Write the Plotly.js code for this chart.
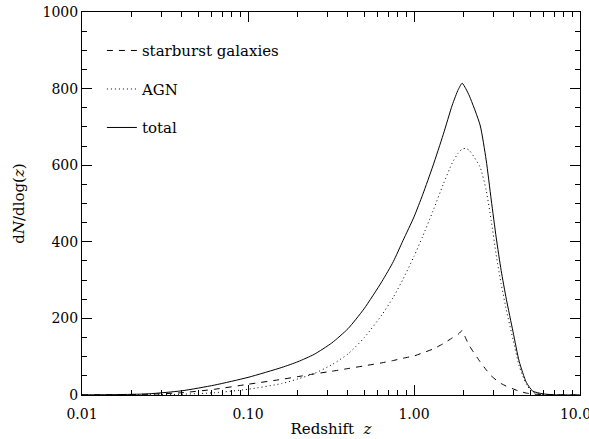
<!DOCTYPE html>
<html>
<head>
<meta charset="utf-8">
<script src="https://cdn.plot.ly/plotly-3.0.1.min.js"></script>
<style>html,body{margin:0;padding:0;background:#fff;}</style>
</head>
<body>
<div id="chart" style="width:589px;height:439px;"></div>
<script>
// Redshift grid
var z = [0.01, 0.016, 0.025, 0.04, 0.063, 0.1, 0.16, 0.2, 0.25, 0.32, 0.4, 0.5, 0.64, 0.75, 0.86, 1.0, 1.13, 1.3, 1.5, 1.7, 1.85, 1.95, 2.05, 2.16, 2.5, 2.72, 2.92, 3.13, 3.35, 3.6, 3.95, 4.3, 4.75, 5.2, 6.0, 7.0, 8.0, 10.0];
// dN/dlog(z) for each population
var starburst = [0.2, 0.8, 2, 6, 15, 28, 41, 48, 55, 62, 69, 76, 84, 90, 96, 102, 110, 120, 134, 149, 159, 168, 148, 128, 87, 66, 50, 39, 30, 23, 16, 10, 5, 2.5, 1, 0.5, 0.2, 0];
var agn = [0, 0.2, 0.5, 2, 6, 15, 30, 42, 56, 79, 107, 149, 209, 255, 303, 362, 415, 480, 550, 606, 632, 642, 644, 638, 595, 535, 455, 365, 290, 222, 145, 76, 28, 7, 1.5, 0.3, 0, 0];
var total = [0.3, 1, 3, 11, 26, 46, 72, 87, 106, 136, 173, 225, 296, 348, 404, 465, 524, 598, 680, 757, 798, 814, 800, 780, 705, 614, 509, 410, 325, 250, 165, 88, 33, 10, 3, 0.5, 0.1, 0];
var names = ['starburst galaxies', 'AGN', 'total'];
var xTickVals = [0.01, 0.1, 1, 10];
var xTickText = ['0.01', '0.10', '1.00', '10.00'];
var xMinorVals = [0.02,0.03,0.04,0.05,0.06,0.07,0.08,0.09,0.2,0.3,0.4,0.5,0.6,0.7,0.8,0.9,2,3,4,5,6,7,8,9];

var serif = 'DejaVu Serif, Liberation Serif, serif';
function tr(y, name, dash, grp) {
  return {x: z, y: y, name: name, type: 'scatter', mode: 'lines',
    legendgroup: grp,
    line: {color: '#000', width: 1, dash: dash, shape: 'spline', smoothing: 0.6}};
}
var data = [
  tr(starburst, names[0], '6px,6px', 'a'),
  tr(agn, names[1], '1px,3px', 'b'),
  tr(total, names[2], 'solid', 'c')
];
var axisCommon = {
  showline: true, linecolor: '#000', linewidth: 1, mirror: 'allticks',
  ticks: 'inside', ticklen: 10, tickwidth: 1, tickcolor: '#000',
  showgrid: false, zeroline: false,
  tickfont: {family: serif, size: 14, color: '#000'}
};
var layout = {
  width: 589, height: 439,
  margin: {l: 82, r: 9, t: 12, b: 44},
  paper_bgcolor: '#fff', plot_bgcolor: '#fff',
  font: {family: serif, color: '#000'},
  xaxis: Object.assign({}, axisCommon, {
    type: 'log', range: [-2, 1],
    tickmode: 'array', tickvals: xTickVals, ticktext: xTickText,
    ticklabeloverflow: 'allow', ticklabelstandoff: 6,
    minor: {ticks: 'inside', ticklen: 5, tickcolor: '#000', tickmode: 'array', tickvals: xMinorVals, showgrid: false},
    title: {text: 'Redshift  <i>z</i>', font: {family: serif, size: 15, color: '#000'}, standoff: 2}
  }),
  yaxis: Object.assign({}, axisCommon, {
    range: [0, 1000], dtick: 200, tick0: 0,
    minor: {ticks: 'inside', ticklen: 5, tickcolor: '#000', dtick: 50, showgrid: false},
    title: {text: 'd<i>N</i>/dlog(<i>z</i>)', font: {family: serif, size: 15, color: '#000'}, standoff: 14}
  }),
  showlegend: true,
  legend: {
    x: 0.04, y: 0.942, xanchor: 'left', yanchor: 'top',
    bgcolor: 'rgba(0,0,0,0)', borderwidth: 0,
    font: {family: serif, size: 15, color: '#000'},
    tracegroupgap: 16, itemwidth: 30
  }
};
Plotly.newPlot('chart', data, layout, {staticPlot: true, displayModeBar: false});
</script>
</body>
</html>
